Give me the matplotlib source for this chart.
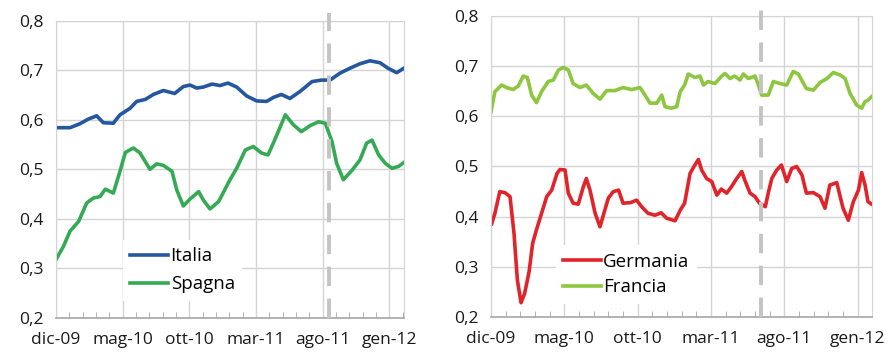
import matplotlib
matplotlib.use('Agg')
import matplotlib.pyplot as plt
from matplotlib.ticker import FixedLocator, MultipleLocator

# x = months since dic-09
tick_pos = [0, 5, 10, 15, 20, 25]
tick_lab = ['dic-09', 'mag-10', 'ott-10', 'mar-11', 'ago-11', 'gen-12']

ita_x = [0, 1.05, 1.8, 2.4, 3.05, 3.55, 4.3, 4.8, 5.55, 6.05, 6.7, 7.3, 8.05, 8.9, 9.55,
         10.05, 10.55, 11.05, 11.7, 12.3, 12.9, 13.55, 14.3, 15.05, 15.8, 16.3, 16.9, 17.55,
         18.3, 19.2, 19.9, 20.55, 21.3, 22.05, 22.8, 23.55, 24.3, 24.9, 25.55, 26.1]
ita_y = [0.584, 0.584, 0.592, 0.601, 0.608, 0.594, 0.593, 0.61, 0.623, 0.637, 0.641, 0.651,
         0.659, 0.653, 0.667, 0.670, 0.664, 0.666, 0.672, 0.669, 0.674, 0.666, 0.648, 0.638,
         0.637, 0.645, 0.651, 0.643, 0.657, 0.677, 0.680, 0.680, 0.694, 0.704, 0.713, 0.719,
         0.715, 0.704, 0.695, 0.704]

spa_x = [0, 0.55, 1.05, 1.7, 2.3, 2.8, 3.3, 3.7, 4.3, 4.8, 5.2, 5.8, 6.3, 7.05, 7.55, 8.05,
         8.7, 9.05, 9.55, 10.05, 10.7, 11.05, 11.55, 12.2, 13.05, 13.55, 14.2, 14.8, 15.4,
         15.9, 16.4, 17.2, 17.8, 18.4, 19.05, 19.7, 20.2, 20.7, 21.05, 21.55, 22.2, 22.8,
         23.3, 23.7, 24.2, 24.7, 25.2, 25.7, 26.1]
spa_y = [0.318, 0.344, 0.375, 0.395, 0.432, 0.442, 0.445, 0.460, 0.452, 0.496, 0.534, 0.543,
         0.533, 0.500, 0.511, 0.508, 0.496, 0.459, 0.426, 0.440, 0.455, 0.438, 0.420, 0.435,
         0.479, 0.502, 0.539, 0.546, 0.533, 0.529, 0.559, 0.610, 0.590, 0.576, 0.588, 0.596,
         0.593, 0.556, 0.512, 0.479, 0.498, 0.519, 0.553, 0.559, 0.529, 0.512, 0.502, 0.506,
         0.514]

fra_x = [0, 0.27, 0.73, 1.07, 1.5, 1.86, 2.2, 2.48, 2.77, 3.1, 3.45, 3.9, 4.25, 4.6, 4.93,
         5.27, 5.6, 6.07, 6.5, 6.98, 7.43, 7.89, 8.45, 9.0, 9.6, 10.16, 10.5, 10.84, 11.3,
         11.64, 11.86, 12.3, 12.66, 12.9, 13.2, 13.45, 13.9, 14.25, 14.48, 14.8, 15.27, 15.7,
         15.95, 16.3, 16.6, 16.98, 17.2, 17.55, 18.0, 18.23, 18.45, 18.9, 19.25, 19.7, 20.16,
         20.6, 20.95, 21.5, 21.98, 22.43, 22.9, 23.34, 23.8, 24.14, 24.48, 24.93, 25.27, 25.5,
         25.7, 25.95]
fra_y = [0.609, 0.649, 0.662, 0.657, 0.653, 0.660, 0.680, 0.677, 0.642, 0.627, 0.649, 0.669,
         0.672, 0.692, 0.697, 0.692, 0.665, 0.657, 0.662, 0.645, 0.634, 0.651, 0.651, 0.657,
         0.653, 0.657, 0.642, 0.626, 0.626, 0.642, 0.619, 0.616, 0.619, 0.649, 0.662, 0.684,
         0.677, 0.680, 0.662, 0.669, 0.665, 0.679, 0.685, 0.675, 0.680, 0.672, 0.684, 0.675,
         0.680, 0.662, 0.642, 0.642, 0.669, 0.665, 0.662, 0.689, 0.684, 0.655, 0.652, 0.667,
         0.675, 0.687, 0.682, 0.675, 0.645, 0.622, 0.616, 0.629, 0.632, 0.639]

ger_x = [0.05, 0.27, 0.6, 0.95, 1.3, 1.57, 1.8, 2.05, 2.3, 2.6, 2.84, 3.1, 3.45, 3.8, 4.14,
         4.5, 4.7, 5.05, 5.27, 5.6, 5.95, 6.3, 6.5, 6.75, 7.1, 7.43, 7.7, 8.0, 8.34, 8.7, 9.0,
         9.5, 9.93, 10.27, 10.7, 11.18, 11.6, 11.98, 12.55, 12.9, 13.2, 13.57, 13.9, 14.14,
         14.36, 14.7, 15.05, 15.4, 15.7, 16.07, 16.4, 16.75, 17.1, 17.3, 17.66, 18.0, 18.3,
         18.7, 18.9, 19.14, 19.48, 19.8, 20.16, 20.5, 20.84, 21.2, 21.5, 21.98, 22.43, 22.77,
         23.1, 23.57, 24.0, 24.36, 24.7, 25.05, 25.27, 25.5, 25.7, 25.95]
ger_y = [0.386, 0.407, 0.450, 0.448, 0.440, 0.367, 0.274, 0.229, 0.248, 0.291, 0.347, 0.374,
         0.407, 0.440, 0.453, 0.486, 0.494, 0.493, 0.447, 0.427, 0.425, 0.460, 0.476, 0.453,
         0.407, 0.380, 0.407, 0.437, 0.450, 0.453, 0.427, 0.428, 0.433, 0.420, 0.407, 0.403,
         0.408, 0.397, 0.392, 0.413, 0.427, 0.486, 0.503, 0.514, 0.493, 0.476, 0.470, 0.443,
         0.455, 0.447, 0.460, 0.476, 0.490, 0.473, 0.447, 0.440, 0.427, 0.420, 0.447, 0.476,
         0.493, 0.503, 0.470, 0.496, 0.500, 0.483, 0.447, 0.448, 0.440, 0.417, 0.463, 0.468,
         0.417, 0.393, 0.430, 0.453, 0.488, 0.463, 0.430, 0.425]

plt.rcParams['font.family'] = ['Open Sans', 'DejaVu Sans']
plt.rcParams['font.size'] = 12

fig = plt.figure(figsize=(8.93, 3.54), dpi=100)
ax1 = fig.add_axes([0.0627, 0.1017, 0.3897, 0.840])
ax2 = fig.add_axes([0.5498, 0.1037, 0.4263, 0.852])


def style(ax, xmax, vline):
    ax.set_xlim(0, xmax)
    ax.set_ylim(0.2, 0.8)
    ax.set_yticks([0.2, 0.3, 0.4, 0.5, 0.6, 0.7, 0.8])
    ax.set_yticklabels(['0,2', '0,3', '0,4', '0,5', '0,6', '0,7', '0,8'])
    ax.xaxis.set_major_locator(FixedLocator(tick_pos))
    ax.set_xticklabels(tick_lab)
    ax.xaxis.set_minor_locator(MultipleLocator(1))
    ax.grid(True, color='#d4d4d4', lw=1.0)
    ax.set_axisbelow(True)
    for s in ['top', 'right', 'left']:
        ax.spines[s].set_color('#d4d4d4')
    ax.spines['bottom'].set_color('#a6a6a6')
    ax.spines['bottom'].set_linewidth(1.2)
    ax.tick_params(axis='y', length=0, pad=9, labelsize=12.5, colors='#1a1a1a')
    ax.tick_params(axis='x', which='major', direction='in', length=0, pad=10,
                   labelsize=12.5, colors='#1a1a1a')
    ax.tick_params(axis='x', which='minor', direction='in', length=4, color='#a6a6a6')
    ax.axvline(vline, ymin=0, ymax=1.025, color='#c4c4c4', lw=2.8,
               dashes=(5, 3.2), clip_on=False, zorder=5)


def legend(ax, anchor, spacing):
    ax.legend(loc='upper left', bbox_to_anchor=anchor, frameon=True,
              fancybox=False, edgecolor='none', framealpha=1, handlelength=2.0,
              handletextpad=0.15, borderpad=0.4, labelspacing=spacing, fontsize=13.5)


ax1.plot(ita_x, ita_y, color='#25579f', lw=2.6, label='Italia')
ax1.plot(spa_x, spa_y, color='#34aa55', lw=2.6, label='Spagna')
style(ax1, 26.1, 20.5)
legend(ax1, (0.165, 0.295), 0.55)

ax2.plot(ger_x, ger_y, color='#e0242a', lw=2.6, label='Germania')
ax2.plot(fra_x, fra_y, color='#8dc63f', lw=2.6, label='Francia')
style(ax2, 25.95, 18.4)
legend(ax2, (0.145, 0.27), 0.4)

fig.savefig('out.png', dpi=100)
